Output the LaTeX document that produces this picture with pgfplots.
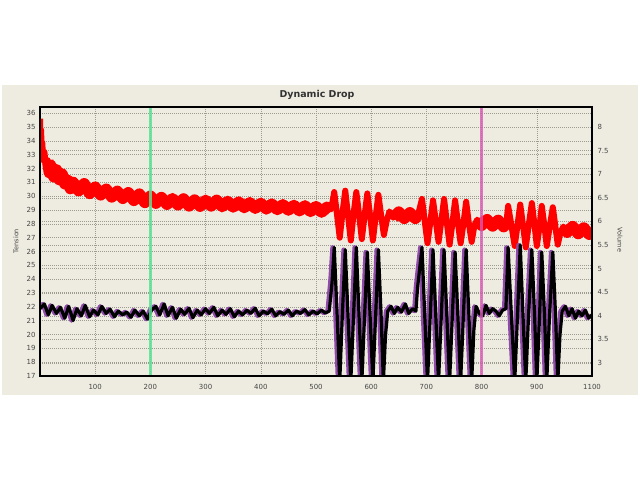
\documentclass[border=0pt]{standalone}
\usepackage{fontspec}
\setmainfont{DejaVu Sans}
\usepackage{pgfplots}
\usepackage{pgfplotstable}
\pgfplotsset{compat=1.18}

\definecolor{panel}{RGB}{238,236,224}
\definecolor{gridc}{RGB}{155,155,145}
\definecolor{tickc}{RGB}{70,70,70}
\definecolor{cursg}{RGB}{90,225,150}
\definecolor{cursm}{RGB}{215,90,180}
\definecolor{volpur}{RGB}{145,75,170}

% Tension (left axis)
\pgfplotstableread{
x t
0 35.6
1 34.0
2 34.8
3 33.2
4 33.9
6 32.6
8 33.2
11 32.0
14 32.6
17 31.7
20 32.2
25 31.4
30 31.9
35 31.2
40 31.6
45 30.9
50 31.15
55 30.55
60 31.0
70 30.4
80 30.9
90 30.2
100 30.65
110 30.1
120 30.5
130 29.95
140 30.35
150 29.85
160 30.25
170 29.7
180 30.15
190 29.55
200 30.0
210 29.5
220 29.9
230 29.42
240 29.82
250 29.38
260 29.8
270 29.3
280 29.72
290 29.28
300 29.7
310 29.3
320 29.7
330 29.25
340 29.62
350 29.22
360 29.58
370 29.18
380 29.53
390 29.13
400 29.48
410 29.08
420 29.43
430 29.04
440 29.38
450 29.0
460 29.33
470 28.95
480 29.3
490 28.9
500 29.25
510 28.85
520 29.2
527 29.05
530 29.6
533 30.3
538 28.7
543 27.0
548 28.8
553 30.4
558 28.6
563 26.8
568 28.7
573 30.3
578 28.7
583 26.9
588 28.6
593 30.2
598 28.6
603 26.8
608 28.5
613 30.1
618 28.6
623 27.2
628 28.2
633 28.9
640 28.45
650 28.85
660 28.4
670 28.8
680 28.4
685 28.7
687 29.0
692 29.8
697 28.2
702 26.6
707 28.1
712 29.7
717 28.2
722 26.7
727 28.2
732 29.8
737 28.1
742 26.5
747 28.0
752 29.7
757 28.1
762 26.6
767 28.0
772 29.6
777 28.0
782 26.7
787 27.9
792 28.3
800 27.9
810 28.3
820 27.85
830 28.25
840 27.8
845 28.1
848 29.3
854 27.9
860 26.4
865 27.9
870 29.4
875 27.9
880 26.3
885 27.8
891 29.5
896 27.9
900 26.4
905 27.8
909 29.3
914 27.8
918 26.4
923 27.7
929 29.2
934 27.7
938 26.5
943 27.4
948 27.8
955 27.4
965 27.8
975 27.3
985 27.7
995 27.25
1000 27.55
}\tension

% Volume (right axis)
\pgfplotstableread{
x v
0 4.15
8 4.25
15 4.02
22 4.22
30 4.05
37 4.18
45 3.95
52 4.2
60 3.9
67 4.15
75 4.0
82 4.22
90 3.98
97 4.12
105 4.02
112 4.2
120 4.05
127 4.14
135 3.98
142 4.1
150 4.02
157 4.08
165 3.97
172 4.12
180 4.0
187 4.1
195 3.93
202 4.12
210 4.2
217 4.02
225 4.25
232 4.0
240 4.18
247 3.95
255 4.14
262 4.03
270 4.16
277 3.96
285 4.12
292 4.02
300 4.15
307 4.05
315 4.18
322 4.0
330 4.12
337 4.03
345 4.15
352 3.98
360 4.1
367 4.02
375 4.12
382 4.05
390 4.16
397 4.0
405 4.1
412 4.04
420 4.14
427 4.0
435 4.09
442 4.03
450 4.12
457 4.0
465 4.1
472 4.05
480 4.13
487 4.02
495 4.1
502 4.04
510 4.12
517 4.06
524 4.1
529 4.7
533 5.45
538 4.1
543 2.6
548 4.1
553 5.4
558 4.0
563 2.6
568 4.0
573 5.45
578 4.0
583 2.6
588 4.0
593 5.35
598 4.0
603 2.6
608 4.0
613 5.4
618 4.0
622 2.6
626 3.6
630 4.1
636 4.2
642 4.05
648 4.18
655 4.08
662 4.25
668 4.05
675 4.15
681 4.1
684 4.6
692 5.45
697 4.0
702 2.6
707 4.0
712 5.4
717 4.0
722 2.6
727 4.0
732 5.4
737 4.0
742 2.6
747 4.0
752 5.35
757 4.0
762 2.6
767 4.0
772 5.4
777 4.0
782 2.6
786 3.7
790 4.2
796 4.05
802 4.0
808 4.22
814 4.05
820 4.15
826 4.1
832 4.0
838 4.12
844 4.15
848 5.45
854 4.0
860 2.6
865 4.0
870 5.5
875 4.0
880 2.6
885 4.0
891 5.4
896 4.0
900 2.6
905 4.0
909 5.35
914 4.0
918 2.6
923 4.0
929 5.35
934 4.0
938 2.6
942 3.6
946 4.1
952 4.2
958 4.0
964 4.15
970 3.95
976 4.1
982 4.0
988 4.12
994 3.95
1000 4.02
}\volume

\pgfplotsset{
  dd/.style={
    scale only axis, width=552bp, height=269bp,
    at={(40bp,104bp)}, anchor=south west,
    xmin=0, xmax=1000,
    major tick length=0pt,
    tick label style={font=\fontsize{7}{8}\selectfont, text=tickc},
    /pgf/number format/assume math mode=true,
    grid style={gridc, line width=0.5bp, dash pattern=on 0.8bp off 1.2bp},
  },
  band/.style={red, line width=11.5bp, line join=round, forget plot},
}

\begin{document}
\begin{tikzpicture}
\useasboundingbox (0,0) rectangle (640bp,480bp);
\fill[white] (0,0) rectangle (640bp,480bp);
\fill[panel] (2bp,85bp) rectangle (638bp,395bp);

% grid of the right-hand scale, behind everything
\begin{axis}[dd, ymin=2.7245, ymax=8.425, ytick={3,3.5,...,8},
  xtick=\empty, yticklabels={}, ymajorgrids, axis line style={draw=none}]
\addplot[draw=none] coordinates {(0,3)};
\end{axis}

% tension
\begin{axis}[dd, ymin=17, ymax=36.45, ytick={17,18,...,36},
  xtick={100,200,...,1000},
  xticklabels={100,200,300,400,500,600,700,800,900,1100},
  xmajorgrids, ymajorgrids, axis line style={draw=none},
  xticklabel style={yshift=-5bp}, yticklabel style={xshift=-1bp}]
\addplot[red, line width=6bp, line join=round] table[x=x,y=t]{\tension};
% the noisy band between the bursts is wider
\addplot[band, restrict x to domain=12:528] table[x=x,y=t]{\tension};
\addplot[band, restrict x to domain=636:686] table[x=x,y=t]{\tension};
\addplot[band, restrict x to domain=790:846] table[x=x,y=t]{\tension};
\addplot[band, restrict x to domain=946:1000] table[x=x,y=t]{\tension};
\end{axis}

% volume
\begin{axis}[dd, axis on top, ymin=2.7245, ymax=8.425, ytick={3,3.5,...,8},
  yticklabel pos=right, xtick=\empty,
  axis line style={black, line width=1.2bp},
  yticklabel style={xshift=2bp}]
\addplot[volpur, line width=4.5bp, line join=round] table[x expr=\thisrow{x}-3, y=v]{\volume};
\addplot[black, line width=3.2bp, line join=round] table[x=x,y=v]{\volume};
\addplot[cursg, line width=2.2bp, opacity=0.85] coordinates {(200,2.7245) (200,8.425)};
\addplot[cursm, line width=2.5bp, opacity=0.8] coordinates {(800,2.7245) (800,8.425)};
\end{axis}

\node[font=\fontsize{9.5}{11}\selectfont\bfseries, text=black!80] at (317bp,385bp) {Dynamic Drop};
\node[rotate=90, font=\fontsize{6.5}{8}\selectfont, text=tickc] at (16bp,239bp) {Tension};
\node[rotate=-90, font=\fontsize{6.5}{8}\selectfont, text=tickc] at (620bp,240bp) {Volume};
\end{tikzpicture}
\end{document}
